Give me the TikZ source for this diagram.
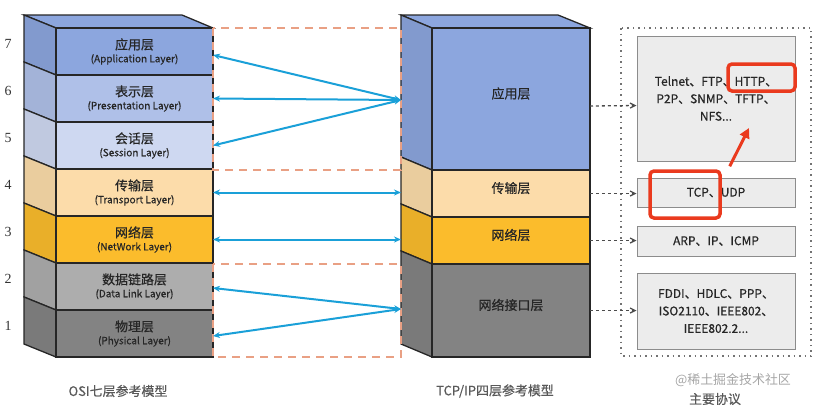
\documentclass[tikz,border=0pt]{standalone}
\usepackage{fontspec}
\setmainfont{Noto Sans CJK SC}
\newfontfamily\medfont{Noto Sans CJK SC}[FakeBold=0.6]
\newfontfamily\numfont{Liberation Serif}
\usetikzlibrary{arrows.meta}
\definecolor{appC}{HTML}{8CA6DE}
\definecolor{preC}{HTML}{AFC0E8}
\definecolor{sesC}{HTML}{CED8F1}
\definecolor{traC}{HTML}{FCDCAA}
\definecolor{netC}{HTML}{FBBC2C}
\definecolor{dllC}{HTML}{ADADAD}
\definecolor{phyC}{HTML}{838383}
\definecolor{arrC}{HTML}{1AA0D8}
\definecolor{mapC}{HTML}{E9A084}
\definecolor{boxC}{HTML}{ECECEC}
\definecolor{hlC}{HTML}{EA3A1E}
\begin{document}
\begin{tikzpicture}[x=1bp,y=-1bp,
  face/.style={draw=black!85,line width=1.3bp},
  layer/.style={face,minimum height=47bp,inner sep=0pt,outer sep=0pt,
    anchor=north west,align=center,text=black!85,font=\medfont\fontsize{13}{15}\selectfont},
  numlbl/.style={text=black!80,font=\numfont\fontsize{14}{14}\selectfont},
  biarrow/.style={draw=arrC,line width=2bp,{Stealth[length=7bp,width=6bp]}-{Stealth[length=7bp,width=6bp]}},
  mapbox/.style={draw=mapC,line width=1.5bp,dash pattern=on 8bp off 6bp},
  probox/.style={draw=black!45,fill=boxC,line width=1bp,minimum width=158bp,
    inner sep=0pt,align=center,text=black!85,font=\medfont\fontsize{12}{17.5}\selectfont},
  feed/.style={draw=black!70,line width=1.3bp,dashed,-{Straight Barb[length=5bp,width=5bp]}},
  hlbox/.style={draw=hlC,line width=3.5bp,rounded corners=4bp,inner sep=0pt},
  caption/.style={text=black!65,font=\medfont\fontsize{13}{15}\selectfont}]
\useasboundingbox (0,0) rectangle (825,410);

% OSI stack
\filldraw[face,fill=appC] (24,15) -- (182,15) -- (213,28) -- (56,28) -- cycle;
\foreach \nm/\col/\top/\zh/\en/\num in {
  app/appC/28/应用层/Application Layer/7,
  pre/preC/75/表示层/Presentation Layer/6,
  ses/sesC/122/会话层/Session Layer/5,
  tra/traC/169/传输层/Transport Layer/4,
  net/netC/216/网络层/NetWork Layer/3,
  dll/dllC/263/数据链路层/Data Link Layer/2,
  phy/phyC/310/物理层/Physical Layer/1}{
  \filldraw[face,fill=\col!93!black] (56,\top) -- ++(-32,-13) -- ++(0,47) -- ++(32,13) -- cycle;
  \node[layer,fill=\col,minimum width=157bp] (osi\nm) at (56,\top)
    {\zh\\[-2bp]{\fontsize{10}{11}\selectfont(\en)}};
  \node[numlbl] (num\num) at (8,\top+16) {\num};
}

% TCP/IP stack
\filldraw[face,fill=appC] (401,15) -- (558,15) -- (590,28) -- (432,28) -- cycle;
\foreach \nm/\col/\top/\ht/\zh in {
  app/appC/28/142/应用层,
  tra/traC/170/47/传输层,
  net/netC/217/47/网络层,
  lnk/phyC/264/93/网络接口层}{
  \filldraw[face,fill=\col!93!black] (432,\top) -- ++(-31,-13) -- ++(0,\ht) -- ++(31,13) -- cycle;
  \node[layer,fill=\col,minimum width=158bp,minimum height=\ht bp] (tcp\nm) at (432,\top) {\zh};
}

% mapping groups
\draw[mapbox] (213,28) rectangle (401,170);
\draw[mapbox] (213,264) rectangle (401,357);
\coordinate (tcpupper) at (401,100);
\coordinate (tcplower) at (401,309);
\draw[biarrow] ([yshift=-3.5bp]osiapp.east) -- (tcpupper);
\draw[biarrow] (osipre.east) -- (tcpupper);
\draw[biarrow] (osises.east) -- (tcpupper);
\draw[biarrow] (ositra.east) -- (ositra.east -| tcpupper);
\draw[biarrow] (osinet.east) -- (osinet.east -| tcpupper);
\draw[biarrow] ([yshift=-1.5bp]osidll.east) -- (tcplower);
\draw[biarrow] ([yshift=-2.5bp]osiphy.east) -- (tcplower);

% protocols
\draw[draw=black!55,line width=1.5bp,dash pattern=on 1.5bp off 4bp] (621,28) rectangle (811,356);
\node[probox,minimum height=125bp] (papp) at (716,98.5) {Telnet、FTP、HTTP、\\P2P、SNMP、TFTP、\\NFS...};
\node[probox,minimum height=29bp] (ptra) at (716,192.5) {TCP、UDP};
\node[probox,minimum height=30bp] (pnet) at (716,241) {ARP、IP、ICMP};
\node[probox,minimum height=76bp] (plnk) at (716,311) {FDDI、HDLC、PPP、\\ISO2110、IEEE802、\\IEEE802.2...};
\draw[feed] ([yshift=-7bp]tcpapp.east) -- ([yshift=-7bp]papp.west);
\draw[feed] (tcptra.east) -- (tcptra.east -| ptra.west);
\draw[feed] (tcpnet.east) -- (tcpnet.east -| pnet.west);
\draw[feed] (tcplnk.east) -- (tcplnk.east -| plnk.west);

% highlights
\node[hlbox,minimum width=67bp,minimum height=27bp] (hlhttp) at (761.5,77.5) {};
\node[hlbox,minimum width=70bp,minimum height=47bp] (hltcp) at (685,194.5) {};
\coordinate (hlend) at (749,128);
\draw[draw=hlC,line width=3bp,-{Triangle[length=10bp,width=10bp]}]
  ([xshift=8bp,yshift=3bp]hltcp.north east) -- (hlend);

% captions
\node[caption] (osicap) at (118,391) {OSI七层参考模型};
\node[caption] (tcpcap) at (495,391) {TCP/IP四层参考模型};
\node[caption] (procap) at (715,399) {主要协议};
\node[text=black!35,font=\fontsize{13}{13}\selectfont] (mark) at (733,380) {@稀土掘金技术社区};
\end{tikzpicture}
\end{document}
